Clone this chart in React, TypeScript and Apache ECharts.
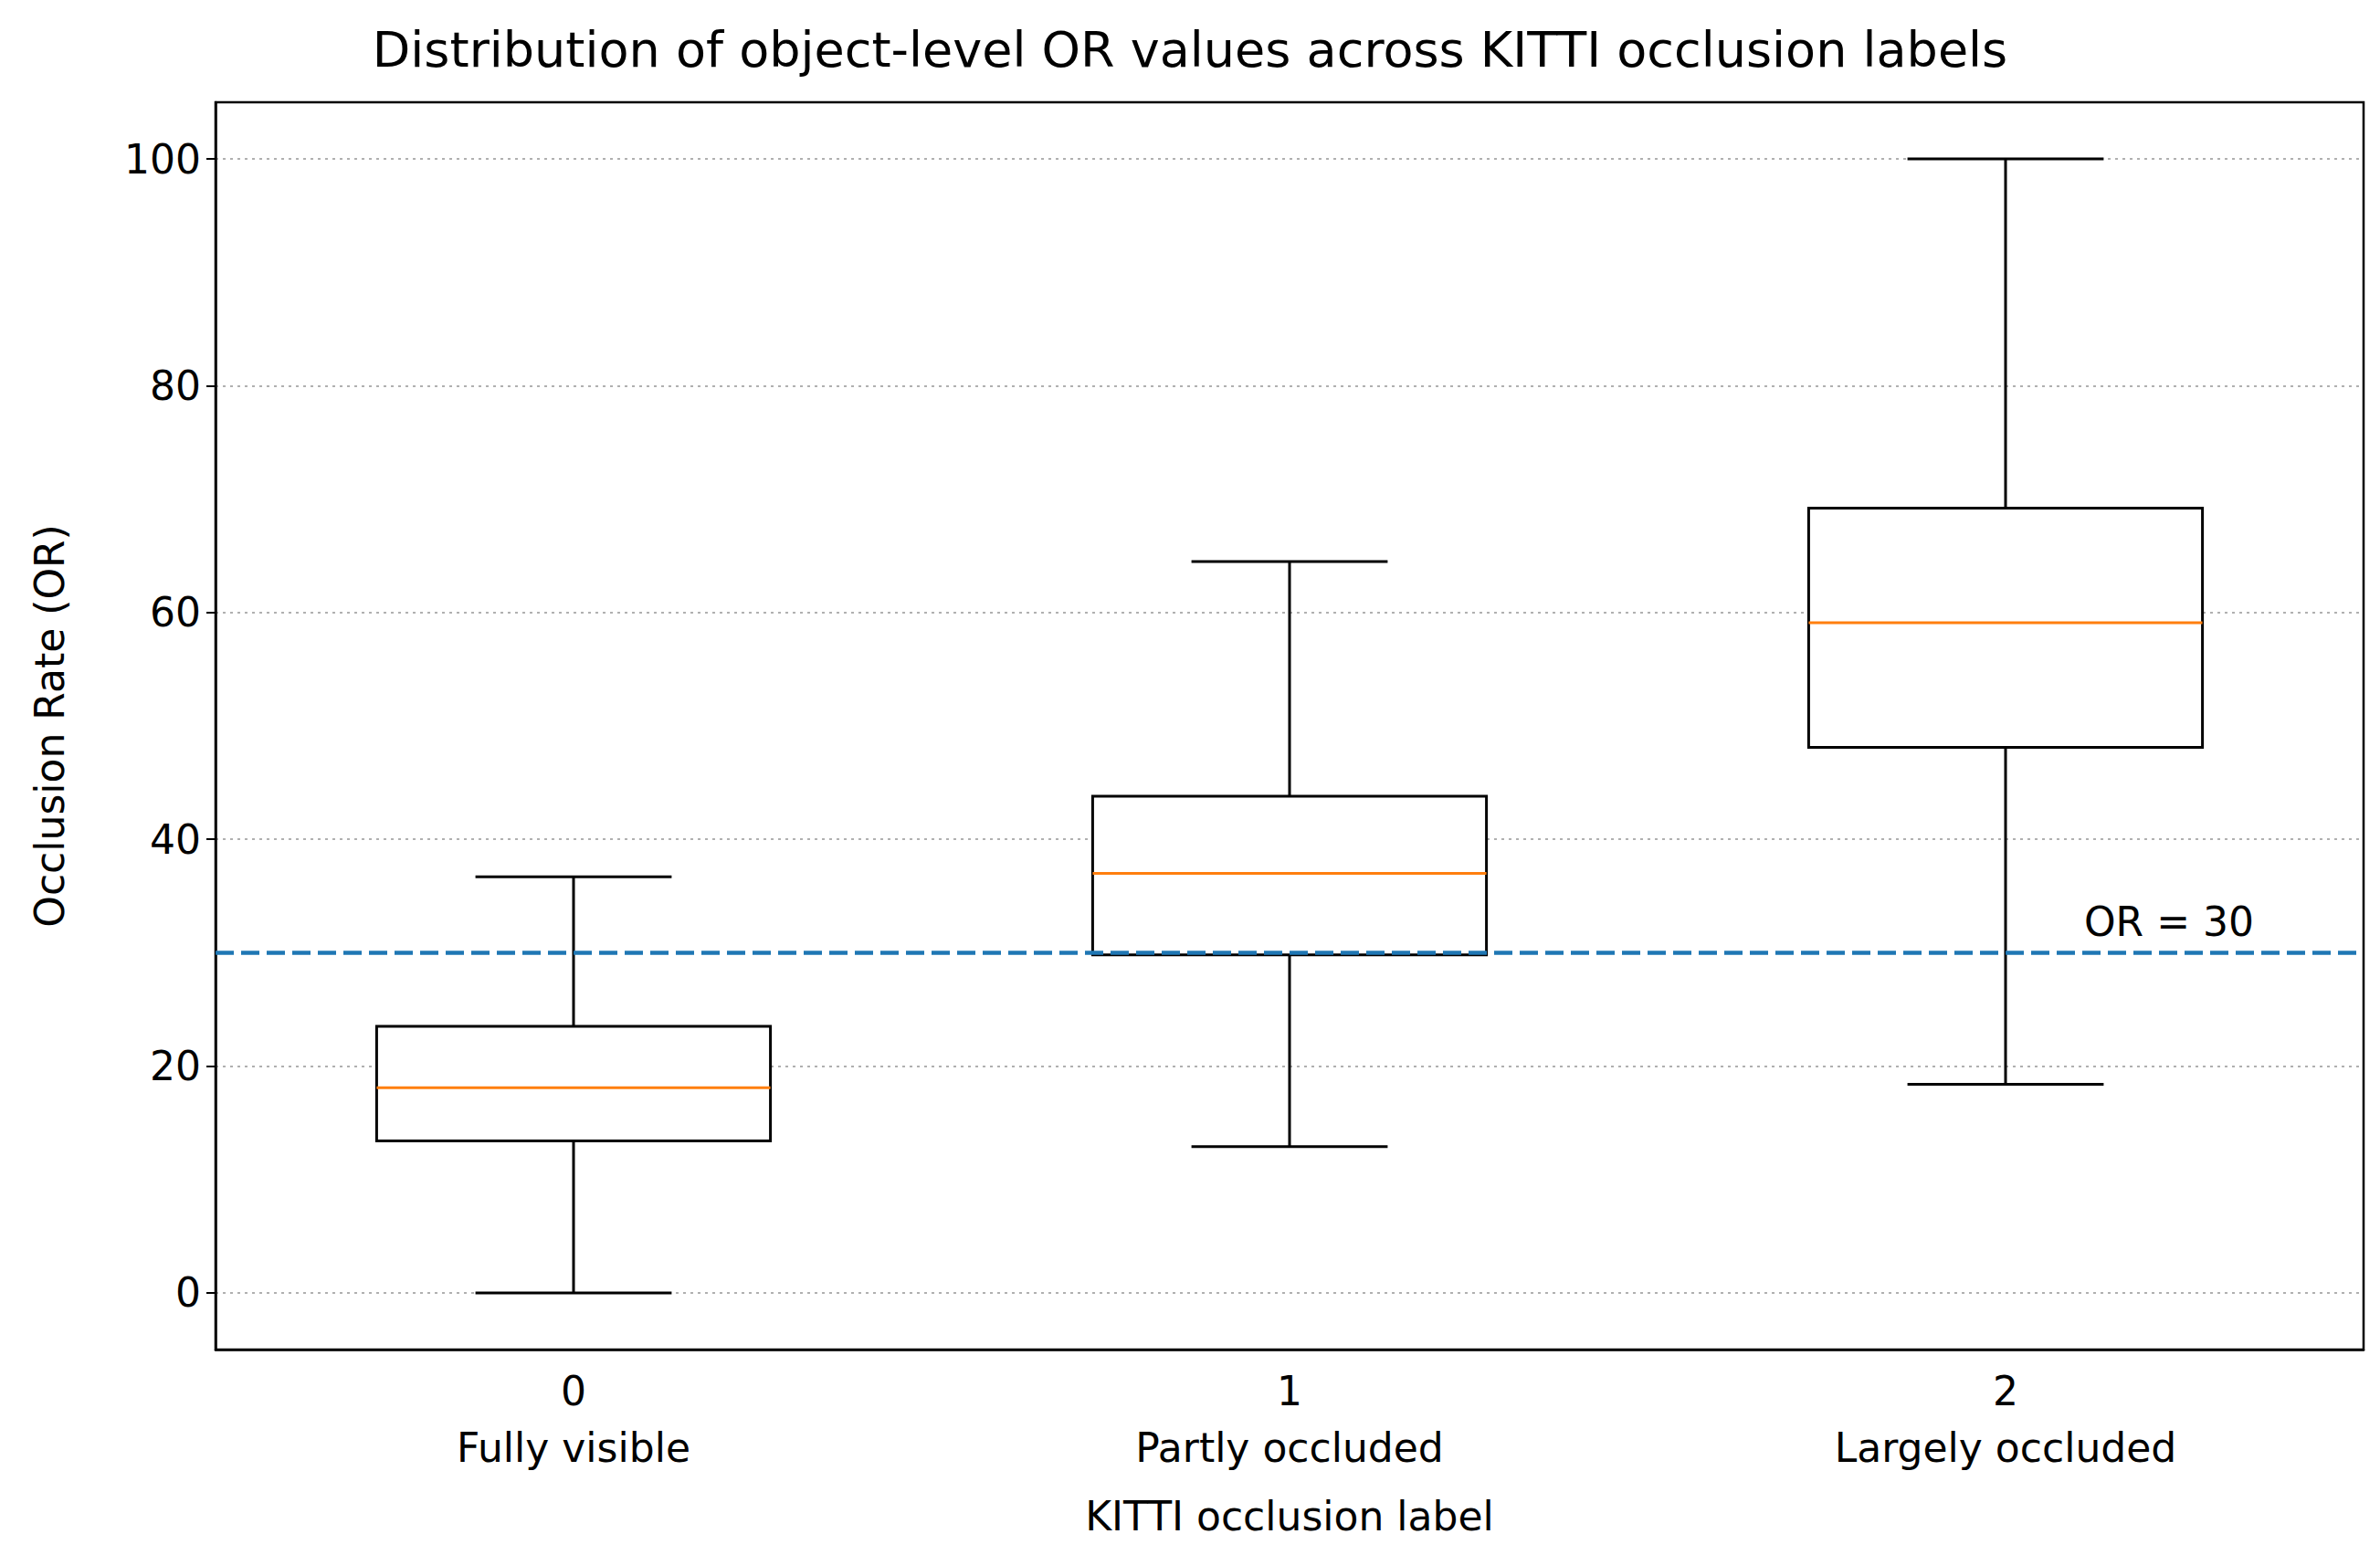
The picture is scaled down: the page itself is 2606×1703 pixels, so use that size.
import React, { useEffect, useRef } from 'react';
import * as echarts from 'echarts';

const categories = ['0\nFully visible', '1\nPartly occluded', '2\nLargely occluded'];
// [min, q1, median, q3, max]
const boxStats = [
  [0, 13.4, 18.1, 23.5, 36.7],
  [12.9, 29.8, 37.0, 43.8, 64.5],
  [18.4, 48.1, 59.1, 69.2, 100],
];
const threshold = 30;

const FONT = 'DejaVu Sans';

const App: React.FC = () => {
  const chartRef = useRef<HTMLDivElement>(null);
  useEffect(() => {
    if (!chartRef.current) return;
    const chart = echarts.init(chartRef.current, null, { renderer: 'svg' });
    const option = {
      animation: false,
      backgroundColor: '#fff',
      title: {
        text: 'Distribution of object-level OR values across KITTI occlusion labels',
        left: 'center',
        top: 22,
        textStyle: { fontFamily: FONT, fontSize: 54, fontWeight: 'normal', color: '#000' },
      },
      grid: {
        left: 236, right: 18, top: 112, bottom: 225,
        show: true, borderColor: '#000', borderWidth: 2.5,
      },
      xAxis: {
        type: 'category',
        data: categories,
        name: 'KITTI occlusion label',
        nameLocation: 'middle',
        nameGap: 160,
        nameTextStyle: { fontFamily: FONT, fontSize: 44, color: '#000' },
        axisLine: { onZero: false, lineStyle: { color: '#000', width: 2.5 } },
        axisTick: { alignWithLabel: true, length: 10, lineStyle: { color: '#000', width: 2 } },
        axisLabel: { fontFamily: FONT, fontSize: 44, color: '#000', margin: 14, lineHeight: 62 },
      },
      yAxis: {
        type: 'value',
        min: -5,
        max: 105,
        name: 'Occlusion Rate (OR)',
        nameLocation: 'middle',
        nameGap: 160,
        nameTextStyle: { fontFamily: FONT, fontSize: 44, color: '#000' },
        axisLine: { show: true, lineStyle: { color: '#000', width: 2.5 } },
        axisTick: { show: true, length: 10, lineStyle: { color: '#000', width: 2 } },
        axisLabel: { fontFamily: FONT, fontSize: 44, color: '#000', margin: 16, showMinLabel: false, showMaxLabel: false },
        splitLine: { show: true, showMinLine: false, showMaxLine: false, lineStyle: { color: '#b0b0b0', type: [3, 5], width: 2 } },
      },
      series: [
        {
          type: 'custom',
          data: boxStats.map((s, i) => [i, ...s]),
          renderItem: (params: any, api: any) => {
            const i = api.value(0);
            const [mn, q1, md, q3, mx] = [1, 2, 3, 4, 5].map((k) => api.value(k));
            const band = api.size([1, 0])[0];
            const cx = api.coord([i, 0])[0];
            const y = (v: number) => api.coord([i, v])[1];
            const bw = band * 0.275;
            const cw = band * 0.137;
            const black = { stroke: '#000', lineWidth: 3, fill: 'none' };
            return {
              type: 'group',
              children: [
                { type: 'line', shape: { x1: cx, y1: y(q1), x2: cx, y2: y(mn) }, style: black },
                { type: 'line', shape: { x1: cx, y1: y(q3), x2: cx, y2: y(mx) }, style: black },
                { type: 'line', shape: { x1: cx - cw, y1: y(mn), x2: cx + cw, y2: y(mn) }, style: black },
                { type: 'line', shape: { x1: cx - cw, y1: y(mx), x2: cx + cw, y2: y(mx) }, style: black },
                { type: 'rect', shape: { x: cx - bw, y: y(q3), width: 2 * bw, height: y(q1) - y(q3) }, style: { stroke: '#000', lineWidth: 3, fill: '#fff' } },
                { type: 'line', shape: { x1: cx - bw, y1: y(md), x2: cx + bw, y2: y(md) }, style: { stroke: '#ff7f0e', lineWidth: 3 } },
              ],
            };
          },
          markLine: {
            silent: true,
            symbol: 'none',
            z: 10,
            data: [{ yAxis: threshold }],
            lineStyle: { color: '#1f77b4', type: [20, 8], width: 4.5 },
            label: {
              show: true,
              position: 'insideEndTop',
              formatter: 'OR = 30',
              fontFamily: FONT,
              fontSize: 44,
              color: '#000',
              distance: [120, 12],
            },
          },
        },
      ],
    };
    chart.setOption(option);
    return () => chart.dispose();
  }, []);

  return (
    <div
      ref={chartRef}
      style={{ position: 'fixed', left: 0, top: 0, width: 2606, height: 1703 }}
    />
  );
};

export default App;
